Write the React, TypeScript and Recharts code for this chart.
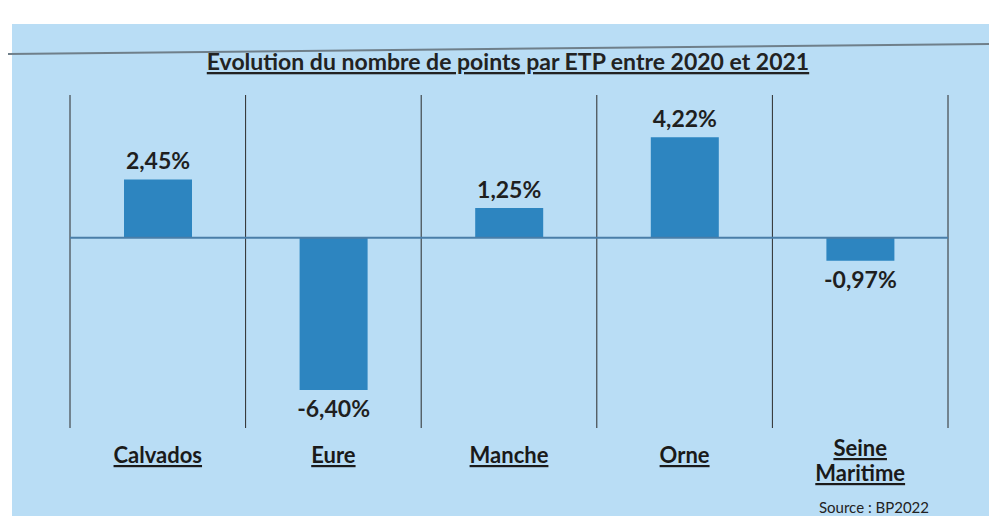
import { Bar, BarChart, CartesianGrid, LabelList, ReferenceLine, XAxis, YAxis } from "recharts";

const departements = ["Calvados", "Eure", "Manche", "Orne", "Seine Maritime"];
const evolution = [2.45, -6.4, 1.25, 4.22, -0.97];
const yDomain = [-8, 6];

const data = departements.map((name, i) => ({ name, value: evolution[i] }));

const font = "Lato, 'Open Sans', sans-serif";
const fmt = (v: number) => `${v.toFixed(2).replace(".", ",")}%`;

function DeptTick({ x, y, payload }: any) {
  const words = String(payload.value).split(" ");
  const lines = words.length > 1 ? words : [payload.value];
  const first = lines.length > 1 ? 28 : 35;
  return (
    <g>
      {lines.map((l: string, i: number) => (
        <text
          key={l}
          x={x}
          y={y + first + i * 25}
          textAnchor="middle"
          fontFamily={font}
          fontWeight={700}
          fontSize={22}
          fill="#1a1a1a"
          style={{ textDecoration: "underline" }}
        >
          {l}
        </text>
      ))}
    </g>
  );
}

function ValueLabel({ x, y, width, height, value }: any) {
  const neg = value < 0;
  const top = Math.min(y, y + height);
  const bottom = Math.max(y, y + height);
  return (
    <text
      x={x + width / 2}
      y={neg ? bottom + 27 : top - 10}
      textAnchor="middle"
      fontFamily={font}
      fontWeight={700}
      fontSize={23}
      fill="#1f1f1f"
    >
      {fmt(value)}
    </text>
  );
}

export default function App() {
  return (
    <div style={{ position: "relative", margin: -8, width: 997, height: 524, background: "#fff", overflow: "hidden" }}>
      <div style={{ position: "absolute", left: 12, top: 24, right: 0, bottom: 2, background: "#b9ddf5" }} />
      <svg width={997} height={524} style={{ position: "absolute", left: 0, top: 0 }}>
        <line x1={0} y1={54} x2={990} y2={44} stroke="#6f7f8a" strokeWidth={2} />
        <text
          x={508}
          y={70}
          textAnchor="middle"
          fontFamily={font}
          fontWeight={700}
          fontSize={23}
          fill="#222"
          style={{ textDecoration: "underline" }}
        >
          Evolution du nombre de points par ETP entre 2020 et 2021
        </text>
        <text x={819} y={513} fontFamily={font} fontSize={15} fill="#222">
          Source : BP2022
        </text>
      </svg>
      <div style={{ position: "absolute", left: 0, top: 0 }}>
        <BarChart width={997} height={524} data={data} margin={{ top: 95, left: 70, right: 49, bottom: 36 }}>
          <CartesianGrid
            horizontal={false}
            stroke="#2b2b2b"
            verticalCoordinatesGenerator={({ offset }: any) =>
              departements.map((_, i) => offset.left + (i * offset.width) / departements.length).concat(offset.left + offset.width)
            }
          />
          <XAxis dataKey="name" height={60} axisLine={false} tickLine={false} tickSize={0} tickMargin={0} tick={<DeptTick />} interval={0} />
          <YAxis hide width={0} domain={yDomain} />
          <ReferenceLine y={0} stroke="#4a7ea8" strokeWidth={2} />
          <Bar dataKey="value" fill="#2d85c0" barSize={68} isAnimationActive={false}>
            <LabelList dataKey="value" content={<ValueLabel />} />
          </Bar>
        </BarChart>
      </div>
    </div>
  );
}
